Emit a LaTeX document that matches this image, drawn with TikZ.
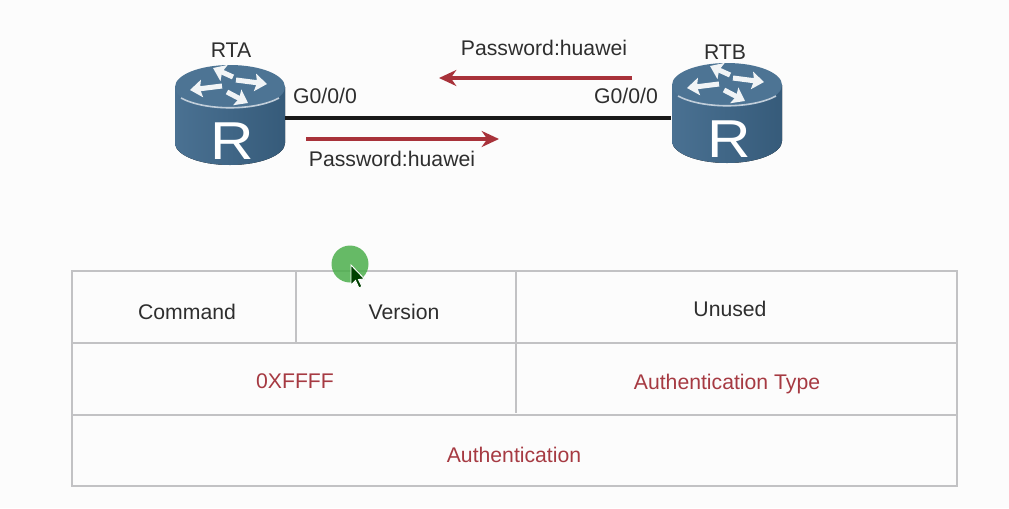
\documentclass[tikz,border=0pt]{standalone}
\usepackage{fontspec}
\setmainfont{Liberation Sans}
\usetikzlibrary{arrows.meta}
\definecolor{rleft}{HTML}{4A7192}
\definecolor{rright}{HTML}{365B7A}
\definecolor{rtop}{HTML}{4D7494}
\definecolor{redline}{HTML}{A8323A}
\definecolor{redtext}{HTML}{A63A42}
\definecolor{gridc}{HTML}{C2C2C4}
\definecolor{txt}{HTML}{2E2E2E}
\tikzset{
  lbl/.style={font=\fontsize{15.9}{18}\selectfont,text=txt,inner sep=0pt},
  redlbl/.style={lbl,text=redtext},
  grid/.style={draw=gridc,line width=1.3pt},
  link/.style={draw=black!90,line width=3pt},
  flow/.style={draw=redline,line width=2.4pt,-{Stealth[length=13pt,width=12pt]}},
  anchorbox/.style={minimum width=82.5pt,minimum height=75pt,inner sep=0pt},
  cellbox/.style={inner sep=0pt,outer sep=0pt},
  routerarrow/.style={draw=white!92!rtop,line width=3.8pt,-{Stealth[length=9pt,width=13pt,inset=1.5pt]}},
}
\newcommand{\router}[2]{%
  \begin{scope}[shift={(#1,#2)}]
    \fill[left color=rleft,right color=rright] (-55,0) -- (-55,56) arc[x radius=55,y radius=22,start angle=180,end angle=0] -- (55,0) -- cycle;
    \fill[rtop] (0,0) ellipse[x radius=55,y radius=22];
    \draw[white!65!rtop,line width=1.2pt] (-49,11) .. controls (-25,24) and (25,24) .. (49,11);
    \draw[routerarrow] (3,-10) -- (-17,-19);
    \draw[routerarrow] (6,-7) -- (37,-3);
    \draw[routerarrow] (-8,-1) -- (-40,3);
    \draw[routerarrow] (-3,5) -- (18,16);
    \node[cellbox,text=white,font=\fontsize{40}{46}\selectfont,xscale=1.13] at (2,54) {R};
  \end{scope}}
\begin{document}
\begin{tikzpicture}[x=0.75pt,y=-0.75pt]
\useasboundingbox (0,0) rectangle (1009,508);
\fill[white!99!black] (0,0) rectangle (1009,508);

\router{230}{87}
\router{727}{85}
\node[anchorbox] (rta) at (230,115) {};
\node[anchorbox] (rtb) at (727,115) {};
\coordinate (la) at (285,118);
\coordinate (lb) at (671,118);
\draw[link] (la) -- (lb);

\node[lbl] (rtaname) at (231,50) {RTA};
\node[lbl] (rtbname) at (725,52) {RTB};
\node[lbl] (ga) at (325,96) {G0/0/0};
\node[lbl] (gb) at (626,96) {G0/0/0};
\node[lbl] (pa) at (392,159) {Password:huawei};
\node[lbl] (pb) at (544,48) {Password:huawei};

\coordinate (fa1) at (306,139);
\coordinate (fa2) at (499,139);
\coordinate (fb1) at (632,78);
\coordinate (fb2) at (439,78);
\draw[flow] (fa1) -- (fa2);
\draw[flow] (fb1) -- (fb2);

% table
\coordinate (tl) at (72,271);
\coordinate (tr) at (957,271);
\coordinate (bl) at (72,486);
\coordinate (br) at (957,486);
\coordinate (m1l) at (72,343);
\coordinate (m1r) at (957,343);
\coordinate (m2l) at (72,415);
\coordinate (m2r) at (957,415);
\coordinate (v1t) at (296,271);
\coordinate (v1b) at (296,343);
\coordinate (v2t) at (516,271);
\coordinate (v2b) at (516,413);
\draw[grid] (tl) -- (tr) -- (br) -- (bl) -- cycle;
\draw[grid] (m1l) -- (m1r);
\draw[grid] (m2l) -- (m2r);
\draw[grid] (v1t) -- (v1b);
\draw[grid] (v2t) -- (v2b);

\node[lbl] (cmd) at (187,312) {Command};
\node[lbl] (ver) at (404,312) {Version};
\node[lbl] (unu) at (730,309) {Unused};
\node[redlbl] (ffff) at (295,381) {0XFFFF};
\node[redlbl] (atype) at (727,384) {Authentication Type};
\node[redlbl] (auth) at (514,455) {Authentication};

% pointer highlight
\fill[green!55!black!70!white,opacity=.85] (350,264) circle[radius=18.5];
\fill[black!75!green] (351,265) -- (351,285) -- (355.5,280.5) -- (359,288) -- (362,286.5) -- (358.5,279.5) -- (364.5,279) -- cycle;
\draw[white,line width=.7pt] (351,265) -- (351,285) -- (355.5,280.5) -- (359,288) -- (362,286.5) -- (358.5,279.5) -- (364.5,279) -- cycle;
\end{tikzpicture}
\end{document}
